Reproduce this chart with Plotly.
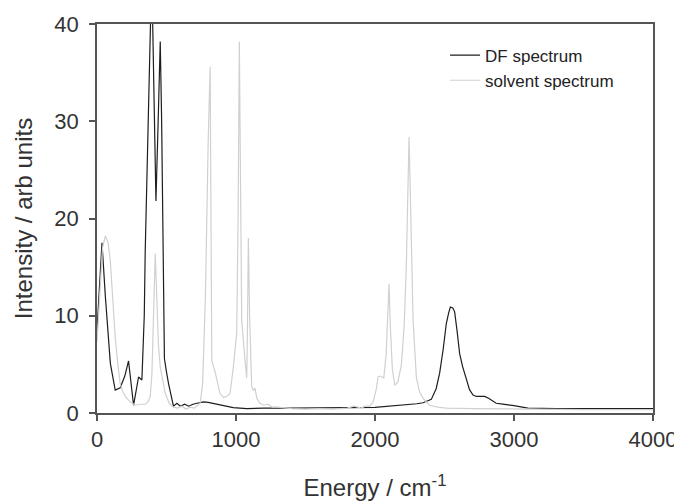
import plotly.graph_objects as go

# DF spectrum (dark line)
df_energy = [0, 20, 36, 60, 96, 131, 167, 200, 227, 263, 299, 323, 340, 347, 365, 388, 400,
             412, 424, 440, 455, 465, 478, 485, 500, 515, 550, 575, 600, 630, 660, 690, 720,
             766, 800, 850, 885, 930, 980, 1077, 1200, 1400, 1600, 1800, 2000, 2107, 2200,
             2300, 2346, 2405, 2440, 2465, 2490, 2513, 2530, 2542, 2560, 2573, 2590, 2609,
             2630, 2657, 2680, 2705, 2730, 2753, 2790, 2820, 2850, 2872, 2920, 2960, 3000,
             3040, 3100, 3300, 3500, 3700, 4000]
df_intensity = [8.5, 14, 17.5, 12, 5.1, 2.35, 2.6, 3.8, 5.35, 0.8, 3.7, 3.4, 10, 16.7, 28, 42, 40.5,
                32, 21.8, 30, 38.2, 30, 16.7, 5.6, 4.2, 3.0, 0.7, 1.0, 0.7, 0.9, 0.7, 0.9, 1.0,
                1.15, 1.1, 0.95, 0.8, 0.65, 0.55, 0.45, 0.5, 0.5, 0.5, 0.55, 0.58, 0.7, 0.85,
                0.95, 1.05, 1.4, 2.5, 4.1, 6.5, 9.2, 10.3, 10.9, 10.8, 10.4, 8.5, 6.1,
                4.8, 3.4, 2.4, 1.85, 1.7, 1.7, 1.7, 1.5, 1.2, 1.0, 0.92, 0.8, 0.75,
                0.65, 0.5, 0.45, 0.45, 0.45, 0.45]

# Solvent spectrum (light grey line)
sol_energy = [0, 20, 40, 60, 80, 96, 115, 131, 150, 167, 185, 203, 239, 275, 311, 347, 370, 383,
              395, 408, 419, 430, 442, 455, 491, 520, 550, 580, 610, 640, 670, 700, 730, 742,
              760, 780, 800, 814, 820, 826, 850, 885, 910, 933, 957, 980, 1005, 1015, 1024,
              1032, 1041, 1065, 1077, 1082, 1089, 1098, 1113, 1125, 1137, 1150, 1173, 1200,
              1230, 1260, 1300, 1400, 1500, 1600, 1700, 1800, 1850, 1900, 1930, 1963, 1987,
              2010, 2022, 2040, 2063, 2080, 2092, 2101, 2110, 2125, 2142, 2165, 2190, 2210,
              2225, 2238, 2245, 2255, 2274, 2298, 2320, 2346, 2393, 2450, 2513, 2700, 3000,
              3500, 4000]
sol_intensity = [7.3, 12, 17, 18.2, 17.5, 15.6, 11, 7.8, 5, 3.0, 2.2, 1.7, 1.15, 0.8, 0.9, 0.9, 1.2, 1.7,
                 4, 12, 16.4, 12, 7, 4.7, 2.0, 1.0, 0.6, 0.5, 0.7, 0.4, 0.6, 0.5, 0.8, 1.0,
                 3, 12, 28, 35.6, 20, 5.4, 4.2, 2.0, 1.6, 1.7, 2.0, 4.6, 8.2, 20, 38.2,
                 22, 9.5, 5.4, 3.6, 8, 18.0, 10, 2.7, 2.3, 2.55, 1.5, 1.0, 0.8,
                 0.9, 0.6, 0.6, 0.45, 0.4, 0.45, 0.4, 0.5, 0.7, 0.5, 0.7, 0.7, 1.15,
                 2.5, 3.7, 3.8, 3.6, 6, 10, 13.3, 9, 4.5, 2.85, 3.2, 5, 9,
                 15, 25, 28.4, 22, 9.5, 3.6, 2.2, 1.5, 0.8, 0.6, 0.5, 0.45, 0.4,
                 0.35, 0.35]

x_ticks = [0, 1000, 2000, 3000, 4000]
y_ticks = [0, 10, 20, 30, 40]

FONT = "Liberation Sans, Arial, sans-serif"

fig = go.Figure()
fig.add_trace(go.Scatter(x=df_energy, y=df_intensity, mode="lines", name="DF spectrum",
                         line=dict(color="#1e1e1e", width=1.2)))
fig.add_trace(go.Scatter(x=sol_energy, y=sol_intensity, mode="lines", name="solvent spectrum",
                         line=dict(color="#d0d0d0", width=1.2)))

axis_common = dict(showline=True, linecolor="#555555", linewidth=1.5, mirror=True,
                   ticks="outside", ticklen=6, tickwidth=1.5, tickcolor="#555555",
                   showgrid=False, zeroline=False, automargin=False,
                   tickfont=dict(family=FONT, size=22, color="#333333"))

fig.update_xaxes(range=[0, 4000], tickvals=x_ticks,
                 title=dict(text="Energy / cm<sup>-1</sup>", font=dict(family=FONT, size=24, color="#333333"),
                            standoff=29),
                 **axis_common)
fig.update_yaxes(range=[0, 40], tickvals=y_ticks, ticklabelstandoff=6,
                 title=dict(text="Intensity / arb units", font=dict(family=FONT, size=24, color="#333333"),
                            standoff=15),
                 **axis_common)

# page body has an 8px default margin, so the figure is shrunk by that offset
fig.update_layout(
    width=674, height=493,
    margin=dict(l=89, r=29, t=16, b=88),
    plot_bgcolor="white", paper_bgcolor="white",
    font=dict(family=FONT, color="#333333"),
    legend=dict(x=0.626, y=0.965, xanchor="left", yanchor="top",
                bgcolor="rgba(0,0,0,0)", font=dict(family=FONT, size=17, color="#222222"),
                tracegroupgap=0),
)

fig.write_html("out.html")
